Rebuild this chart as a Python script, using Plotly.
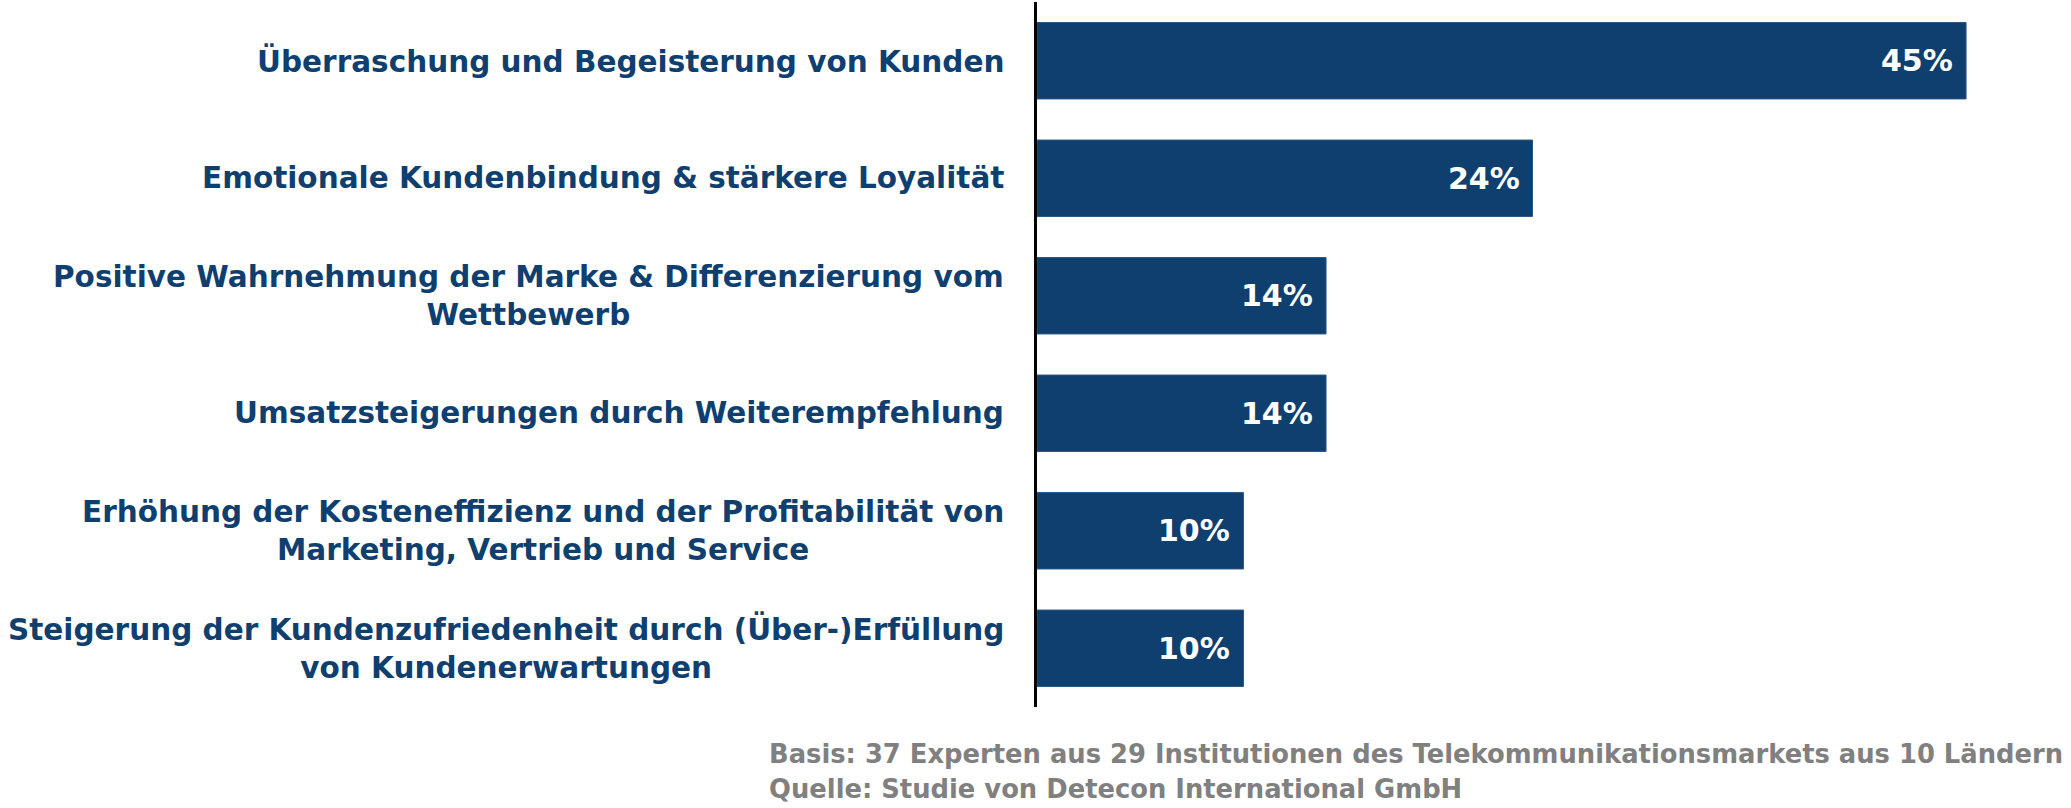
import plotly.graph_objects as go

categories = [
    "Überraschung und Begeisterung von Kunden",
    "Emotionale Kundenbindung & stärkere Loyalität",
    "Positive Wahrnehmung der Marke & Differenzierung vom<br>Wettbewerb",
    "Umsatzsteigerungen durch Weiterempfehlung",
    "Erhöhung der Kosteneffizienz und der Profitabilität von<br>Marketing, Vertrieb und Service",
    "Steigerung der Kundenzufriedenheit durch (Über-)Erfüllung<br>von Kundenerwartungen",
]
values = [45, 24, 14, 14, 10, 10]
footnotes = [
    "Basis: 37 Experten aus 29 Institutionen des Telekommunikationsmarkets aus 10 Ländern",
    "Quelle: Studie von Detecon International GmbH",
]

NAVY = "#0F3F6F"
FONT = "DejaVu Sans"
W, H = 2071, 808
L, T, B = 1037, 2, 101
XMAX = 48
PLOT_W = 991
R = W - L - PLOT_W
PLOT_H = H - T - B

fig = go.Figure()
fig.add_trace(go.Bar(
    x=values, y=categories, orientation="h",
    marker=dict(color=NAVY, line=dict(color="#2a5683", width=1)),
    hoverinfo="skip", showlegend=False,
))

ann = []
for c, v in zip(categories, values):
    ann.append(dict(x=0, y=c, xref="x", yref="y", text=c, showarrow=False,
                    xanchor="right", yanchor="middle", align="center", xshift=-31,
                    font=dict(family=FONT, size=29.5, color=NAVY, weight="bold")))
    ann.append(dict(x=v, y=c, xref="x", yref="y", text=f"{v}%", showarrow=False,
                    xanchor="right", yanchor="middle", xshift=-11,
                    font=dict(family=FONT, size=30, color="white", weight="bold")))

foot_px = [754, 789]
for txt, ypx in zip(footnotes, foot_px):
    ann.append(dict(x=(767 - L) / PLOT_W, y=(H - B - ypx) / PLOT_H, xref="paper", yref="paper",
                    text=txt, showarrow=False, xanchor="left", yanchor="middle",
                    font=dict(family=FONT, size=25.8, color="#808080", weight="bold")))

fig.update_layout(
    width=W, height=H,
    margin=dict(l=L, r=R, t=T, b=B, pad=0),
    paper_bgcolor="white", plot_bgcolor="white",
    bargap=0.35,
    annotations=ann,
    xaxis=dict(range=[0, XMAX], visible=False, fixedrange=True),
    yaxis=dict(categoryorder="array", categoryarray=categories, autorange="reversed",
               showticklabels=False, showgrid=False, zeroline=False, ticks="",
               showline=True, linecolor="black", linewidth=2.5),
)

fig.write_html("out.html")
